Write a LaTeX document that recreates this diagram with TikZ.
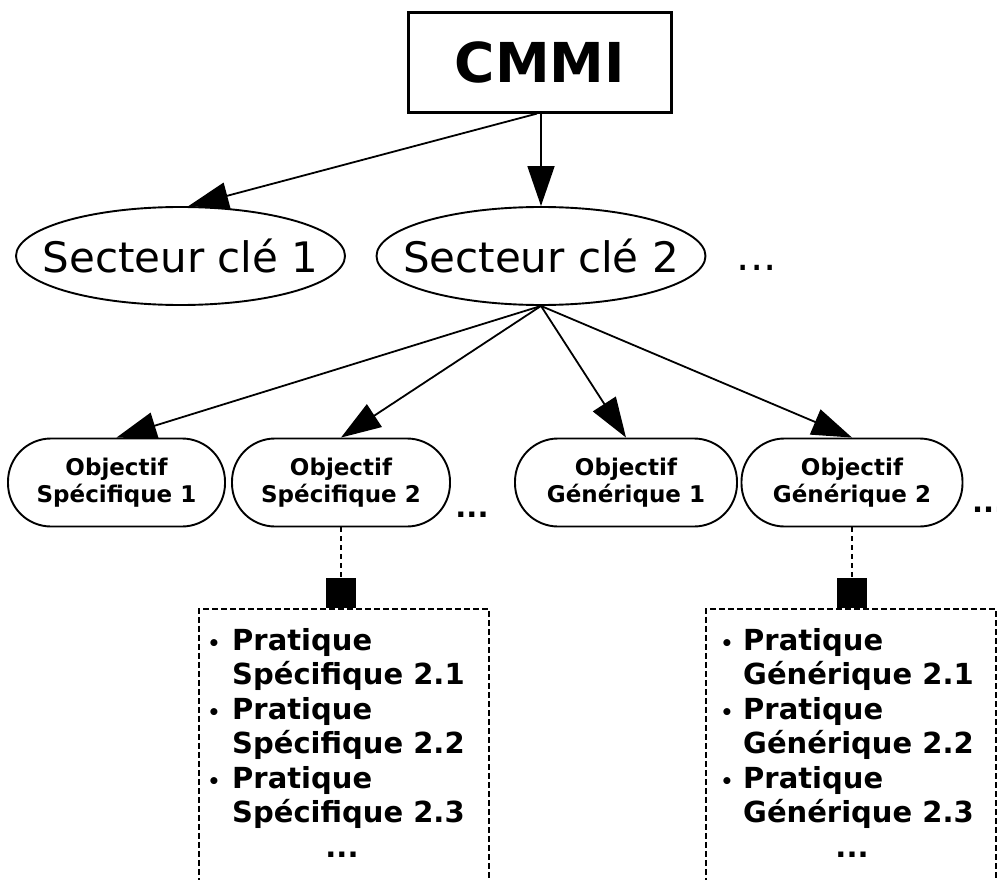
\documentclass[tikz,border=0pt]{standalone}
\usepackage{fontspec}
\setmainfont{DejaVu Sans}
\usetikzlibrary{shapes.geometric,arrows.meta}
\begin{document}
\begin{tikzpicture}[x=1pt,y=-1pt,
  edge/.style={line width=1.8pt,-{Triangle[length=40pt,width=27pt]}},
  sector/.style={ellipse,draw,line width=1.9pt,minimum width=329pt,minimum height=98pt,
    inner xsep=-25pt,inner ysep=0pt,font=\fontsize{42}{48}\selectfont},
  goal/.style={rectangle,rounded corners=43pt,draw,line width=1.9pt,minimum height=88pt,
    inner sep=0pt,align=center,font=\fontsize{23}{27}\selectfont\bfseries},
  practice/.style={font=\fontsize{29}{34}\selectfont\bfseries,inner sep=0pt},
  dot/.style={font=\fontsize{20}{24}\selectfont\bfseries,inner sep=0pt,anchor=base},
  plist/.style={draw,dash pattern=on 6pt off 3pt,line width=1.7pt,minimum width=290pt,
    minimum height=330pt,anchor=north west,inner sep=0pt},
  marker/.style={fill=black,minimum size=30pt,inner sep=0pt},
  link/.style={line width=1.6pt,dash pattern=on 5pt off 4pt}
]
\useasboundingbox (0,0) rectangle (997,880);
\clip (0,0) rectangle (997,880);

\node[draw,line width=2.2pt,minimum width=263pt,minimum height=100pt,
  font=\fontsize{55}{60}\selectfont\bfseries] (cmmi) at (540,62.5) {CMMI};

\node[sector] (s1) at (180.5,256) {Secteur clé 1};
\node[sector] (s2) at (541,256) {Secteur clé 2};
\node[font=\fontsize{42}{48}\selectfont,anchor=base,inner sep=0pt] (dots1) at (757,270) {...};

\node[goal,minimum width=217pt] (os1) at (116.5,482.5) {Objectif\\Spécifique 1};
\node[goal,minimum width=218pt] (os2) at (341,482.5) {Objectif\\Spécifique 2};
\node[goal,minimum width=222pt] (og1) at (626,482.5) {Objectif\\Générique 1};
\node[goal,minimum width=221pt] (og2) at (852,482.5) {Objectif\\Générique 2};
\node[practice,anchor=base] (dots2) at (472,517) {...};
\node[practice,anchor=base west] (dots3) at (972,512) {...};

\draw[edge] ([xshift=-3pt]cmmi.south) -- ([xshift=8pt]s1.north);
\draw[edge] (cmmi.south -| s2.north) -- (s2.north);
\draw[edge] (s2.south) -- (os1.north);
\draw[edge] (s2.south) -- (os2.north);
\draw[edge] (s2.south) -- (og1.north);
\draw[edge] (s2.south) -- (og2.north);

% left practice list
\node[plist] (bx1) at (198,608) {};
\node[marker] (sq1) at (341,592.5) {};
\draw[link] (os2.south) -- (sq1.north);
\foreach [count=\k] \t in {Pratique,Spécifique 2.1,Pratique,Spécifique 2.2,Pratique,Spécifique 2.3}
  \node[practice,anchor=base west] (pa\k) at (232,{650+34.5*(\k-1)}) {\t};
\foreach \k in {1,3,5}
  \node[dot] (ba\k) at (214,{650+34.5*(\k-1)}) {•};
\node[practice,anchor=base] (pad) at (342,857) {...};

% right practice list
\node[plist] (bx2) at (705,608) {};
\node[marker] (sq2) at (852,592.5) {};
\draw[link] (og2.south) -- (sq2.north);
\foreach [count=\k] \t in {Pratique,Générique 2.1,Pratique,Générique 2.2,Pratique,Générique 2.3}
  \node[practice,anchor=base west] (pb\k) at (743,{650+34.5*(\k-1)}) {\t};
\foreach \k in {1,3,5}
  \node[dot] (bb\k) at (727,{650+34.5*(\k-1)}) {•};
\node[practice,anchor=base] (pbd) at (852,857) {...};
\end{tikzpicture}
\end{document}
